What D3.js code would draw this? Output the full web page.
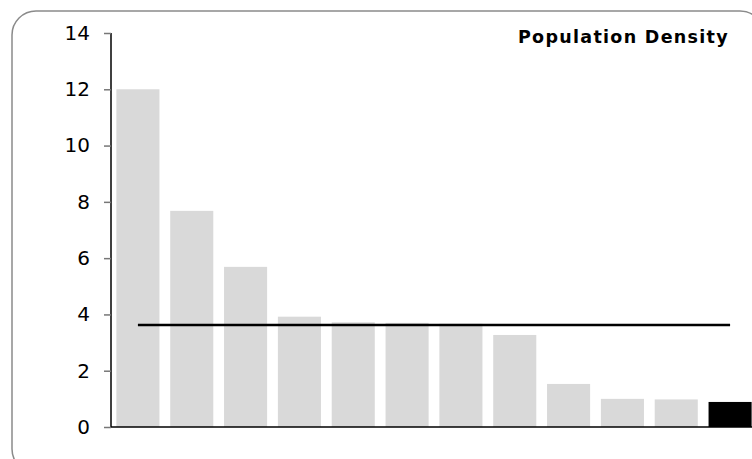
<!DOCTYPE html>
<html>
<head>
<meta charset="utf-8">
<script src="https://cdn.jsdelivr.net/npm/d3@7"></script>
<style>
  body { margin: 0; background: #fff; overflow: hidden; }
  #chart { width: 752px; height: 459px; }
  .axis text { font-family: "DejaVu Sans", Verdana, sans-serif; font-size: 20px; fill: #000; }
  .title { font-family: "DejaVu Sans", Verdana, sans-serif; font-size: 17.5px; font-weight: bold; letter-spacing: 1.3px; }
</style>
</head>
<body>
<div id="chart"></div>
<script>
// data
var regions = ["R1", "R2", "R3", "R4", "R5", "R6", "R7", "R8", "R9", "R10", "R11", "R12"];
var density = [12.0, 7.68, 5.69, 3.92, 3.72, 3.70, 3.67, 3.27, 1.53, 1.0, 0.98, 0.89];
var highlight = "R12";
var refValue = 3.62;
var yTicks = [0, 2, 4, 6, 8, 10, 12, 14];

var width = 752, height = 459;
var margin = {top: 33, left: 111, right: -5, bottom: 32};

var svg = d3.select("#chart")
    .append("svg")
    .attr("width", width)
    .attr("height", height);

// rounded frame
svg.append("rect")
    .attr("x", 12).attr("y", 11)
    .attr("width", 752).attr("height", 462)
    .attr("rx", 24).attr("ry", 24)
    .attr("fill", "none")
    .attr("stroke", "#8a8a8a")
    .attr("stroke-width", 1.5);

var xScale = d3.scaleBand()
    .domain(regions)
    .range([margin.left, width - margin.right])
    .paddingInner(0.2)
    .paddingOuter(0.1);

var yScale = d3.scaleLinear()
    .domain([0, 14])
    .range([height - margin.bottom, margin.top]);

// bars
svg.selectAll(".bar")
    .data(regions)
    .enter()
    .append("rect")
    .attr("class", "bar")
    .attr("x", function(d) { return xScale(d); })
    .attr("y", function(d, i) { return yScale(density[i]); })
    .attr("width", xScale.bandwidth())
    .attr("height", function(d, i) { return yScale(0) - yScale(density[i]); })
    .attr("fill", function(d) { return d == highlight ? "#000" : "#d9d9d9"; });

// y axis
var yAxis = svg.append("g")
    .attr("class", "axis")
    .attr("transform", `translate(${margin.left},0)`)
    .call(d3.axisLeft(yScale).tickValues(yTicks).tickSize(7).tickPadding(14).tickFormat(d3.format("d")));
yAxis.select(".domain").attr("stroke", "#000").attr("stroke-width", 1.5).attr("d", `M0,${yScale(14)}V${yScale(0)}`);
yAxis.selectAll(".tick line").attr("stroke", "#777").attr("stroke-width", 1.5);

// x axis line
svg.append("line")
    .attr("x1", margin.left).attr("x2", width)
    .attr("y1", yScale(0)).attr("y2", yScale(0))
    .attr("stroke", "#000")
    .attr("stroke-width", 1.5);

// reference line
svg.append("line")
    .attr("x1", xScale(regions[0]) + xScale.bandwidth() / 2)
    .attr("x2", xScale(regions[regions.length - 1]) + xScale.bandwidth() / 2)
    .attr("y1", yScale(refValue)).attr("y2", yScale(refValue))
    .attr("stroke", "#000")
    .attr("stroke-width", 2.5);

svg.append("text")
    .attr("class", "title")
    .attr("x", 729)
    .attr("y", 43)
    .attr("text-anchor", "end")
    .text("Population Density");
</script>
</body>
</html>
